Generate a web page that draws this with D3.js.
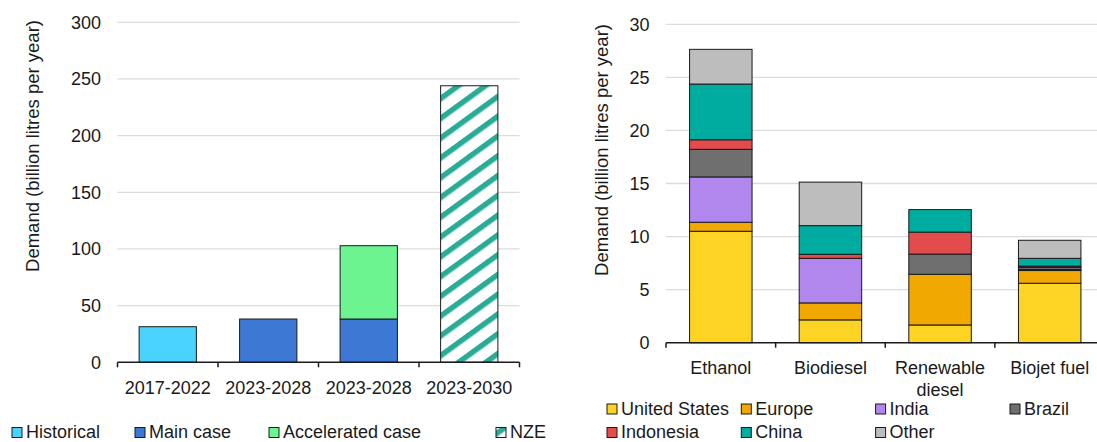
<!DOCTYPE html>
<html>
<head>
<meta charset="utf-8">
<script src="https://cdn.jsdelivr.net/npm/d3@7"></script>
<style>
body{margin:0;background:#fff;}
text{font-family:"Liberation Sans", Arial, sans-serif;fill:#1a1a1a;}
</style>
</head>
<body>
<div id="chart"></div>
<script>
// left chart: demand by period and case
var periods = ["2017-2022","2023-2028","2023-2028","2023-2030"];
var caseNames = ["Historical","Main case","Accelerated case","NZE"];
var historical = [31.4,0,0,0];
var mainCase = [0,38.2,38.2,0];
var accelerated = [0,0,64.7,0];
var nze = [0,0,0,244];
var leftTicks = [0,50,100,150,200,250,300];

// right chart: demand by fuel and region
var fuels = ["Ethanol","Biodiesel","Renewable diesel","Biojet fuel"];
var regions = ["United States","Europe","India","Brazil","Indonesia","China","Other"];
var unitedStates = [10.5,2.15,1.67,5.6];
var europe = [0.85,1.6,4.78,1.2];
var india = [4.27,4.2,0,0.1];
var brazil = [2.6,0,1.9,0.2];
var indonesia = [0.9,0.38,2.07,0.12];
var china = [5.25,2.7,2.12,0.73];
var other = [3.27,4.1,0,1.7];
var rightTicks = [0,5,10,15,20,25,30];

var caseColors = ["#4ad3ff","#3d78d4","#6bf490","url(#nzeHatch)"];
var regionColors = ["#fdd324","#f1a800","#b187ee","#6f6f6f","#e34c4b","#00ac9f","#bdbdbd"];

var svg = d3.select("#chart").append("svg")
	.attr("width", 1097)
	.attr("height", 442);

var defs = svg.append("defs");
var pat = defs.append("pattern")
	.attr("id", "nzeHatch")
	.attr("patternUnits", "userSpaceOnUse")
	.attr("width", 16)
	.attr("height", 16)
	.attr("patternTransform", "rotate(54)");
pat.append("rect").attr("width", 16).attr("height", 16).attr("fill", "#fff");
pat.append("rect").attr("width", 5.5).attr("height", 16).attr("fill", "#2aab96");

function stackRows(cats, seriesList){
	return cats.map(function(c, i){
		var row = {idx: i};
		seriesList.forEach(function(s, j){ row[j] = s[i]; });
		return row;
	});
}

function wrap(sel, width){
	sel.each(function(){
		var t = d3.select(this);
		var words = t.text().split(" ");
		var x = t.attr("x"), y = t.attr("y");
		t.text(null);
		var line = [];
		var ts = t.append("tspan").attr("x", x).attr("y", y);
		var lineNo = 0;
		words.forEach(function(w){
			line.push(w);
			ts.text(line.join(" "));
			if(ts.node().getComputedTextLength() > width && line.length > 1){
				line.pop();
				ts.text(line.join(" "));
				line = [w];
				lineNo++;
				ts = t.append("tspan").attr("x", x).attr("y", +y + lineNo*21.5).text(w);
			}
		});
	});
}

function drawChart(opt){
	var x = d3.scaleBand()
		.domain(d3.range(opt.cats.length))
		.range([opt.left, opt.right])
		.paddingInner(0.43)
		.paddingOuter(0.215);
	var y = d3.scaleLinear()
		.domain([0, opt.ticks[opt.ticks.length-1]])
		.range([opt.bottom, opt.top]);

	var g = svg.append("g");

	g.selectAll(".grid")
		.data(opt.ticks.slice(1))
		.enter()
		.append("line")
		.attr("x1", opt.left)
		.attr("x2", opt.right)
		.attr("y1", function(d){ return y(d); })
		.attr("y2", function(d){ return y(d); })
		.attr("stroke", "#dcdcdc")
		.attr("stroke-width", 1.3);

	g.selectAll(".ylab")
		.data(opt.ticks)
		.enter()
		.append("text")
		.attr("x", opt.left - 16.5)
		.attr("y", function(d){ return y(d) + 6.5; })
		.attr("text-anchor", "end")
		.style("font-size", "18px")
		.text(function(d){ return d; });

	g.append("text")
		.attr("transform", "translate(" + opt.titleX + "," + opt.titleY + ") rotate(-90)")
		.attr("text-anchor", "middle")
		.style("font-size", "18.5px")
		.text("Demand (billion litres per year)");

	var stacked = d3.stack()
		.keys(d3.range(opt.series.length))
		(stackRows(opt.cats, opt.series));

	var layers = g.selectAll(".layer")
		.data(stacked)
		.enter()
		.append("g")
		.attr("fill", function(d, i){ return opt.colors[i]; });

	layers.selectAll("rect")
		.data(function(d){ return d.filter(function(p){ return p[1] - p[0] > 0; }); })
		.enter()
		.append("rect")
		.attr("x", function(d){ return x(d.data.idx); })
		.attr("width", x.bandwidth())
		.attr("y", function(d){ return y(d[1]); })
		.attr("height", function(d){ return y(d[0]) - y(d[1]); })
		.attr("stroke", "#1a1a1a")
		.attr("stroke-width", 1);

	g.append("line")
		.attr("x1", opt.left)
		.attr("x2", opt.right)
		.attr("y1", opt.bottom)
		.attr("y2", opt.bottom)
		.attr("stroke", "#1a1a1a")
		.attr("stroke-width", 1.5);

	g.selectAll(".xtick")
		.data(d3.range(opt.cats.length + 1))
		.enter()
		.append("line")
		.attr("x1", function(d){ return opt.left + d*x.step(); })
		.attr("x2", function(d){ return opt.left + d*x.step(); })
		.attr("y1", opt.bottom)
		.attr("y2", opt.bottom + 5)
		.attr("stroke", "#1a1a1a")
		.attr("stroke-width", 1.5);

	g.selectAll(".xlab")
		.data(opt.cats)
		.enter()
		.append("text")
		.attr("x", function(d, i){ return x(i) + x.bandwidth()/2; })
		.attr("y", opt.bottom + 31.3)
		.attr("text-anchor", "middle")
		.style("font-size", "18px")
		.text(function(d){ return d; })
		.call(wrap, x.step() - 4);
}

function drawLegend(names, colors, xs, ys){
	var items = svg.selectAll(".leg-" + names[0].replace(/ /g, ""))
		.data(names)
		.enter()
		.append("g");
	items.append("rect")
		.attr("x", function(d, i){ return xs[i]; })
		.attr("y", function(d, i){ return ys[i] - 10.5; })
		.attr("width", 10)
		.attr("height", 10)
		.attr("fill", function(d, i){ return colors[i]; })
		.attr("stroke", "#1a1a1a")
		.attr("stroke-width", 1);
	items.append("text")
		.attr("x", function(d, i){ return xs[i] + 14; })
		.attr("y", function(d, i){ return ys[i]; })
		.style("font-size", "18px")
		.text(function(d){ return d; });
}

drawChart({
	cats: periods,
	series: [historical, mainCase, accelerated, nze],
	colors: caseColors,
	ticks: leftTicks,
	left: 117.5, right: 519.5, top: 22.3, bottom: 362.3,
	titleX: 39, titleY: 146
});

drawChart({
	cats: fuels,
	series: [unitedStates, europe, india, brazil, indonesia, china, other],
	colors: regionColors,
	ticks: rightTicks,
	left: 666, right: 1104.5, top: 24.3, bottom: 342.7,
	titleX: 607.5, titleY: 150
});

drawLegend(caseNames, caseColors, [12, 135, 269, 496], [438, 438, 438, 438]);

var colX = [607, 741.3, 875.6, 1010];
drawLegend(regions, regionColors,
	regions.map(function(d, i){ return colX[i % 4]; }),
	regions.map(function(d, i){ return i < 4 ? 414.5 : 438; }));
</script>
</body>
</html>
